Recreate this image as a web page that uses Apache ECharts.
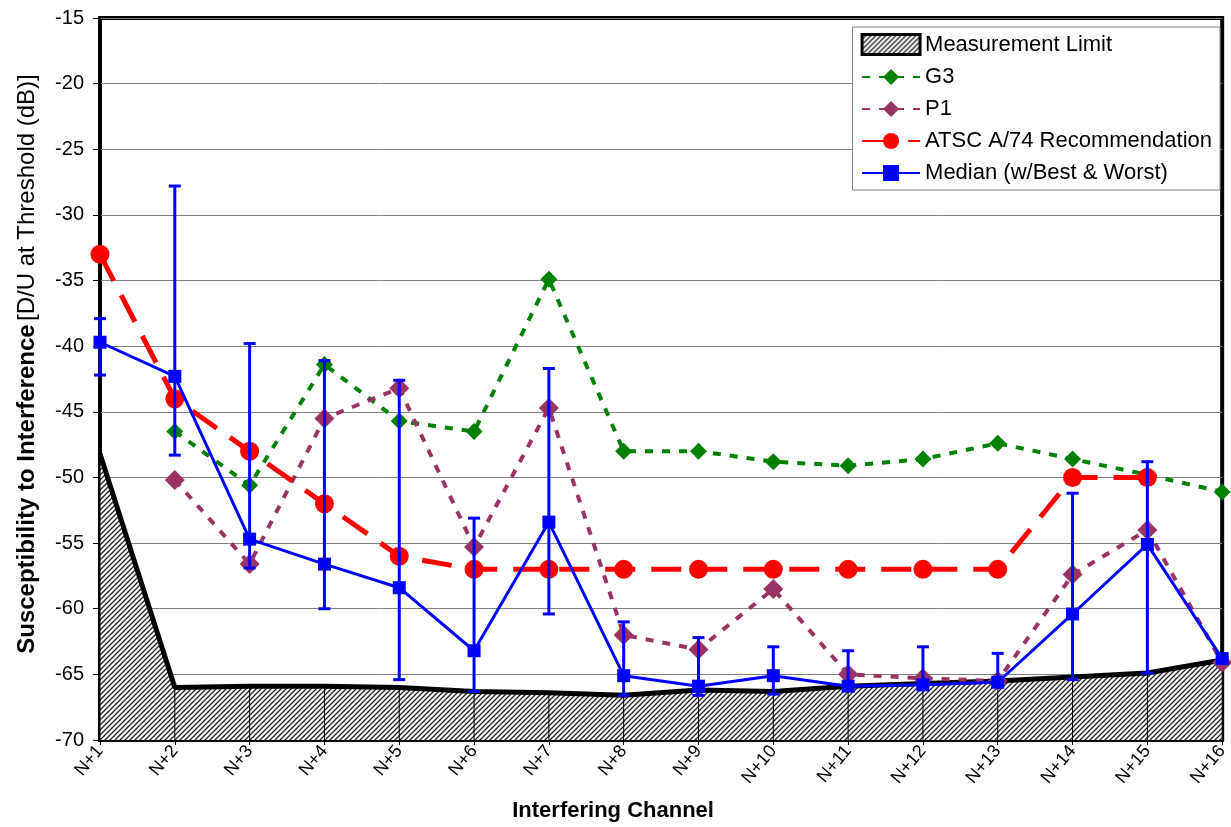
<!DOCTYPE html>
<html lang="en">
<head>
    <meta charset="UTF-8">
    <title>Interfering Channel</title>
    <style>
        * { margin: 0; padding: 0; }
        #main { width: 1231px; height: 827px; background: #fff; }
    </style>
</head>
<body>
    <div id="main"></div>
    <script src="https://cdn.jsdelivr.net/npm/echarts@6/dist/echarts.min.js"></script>
    <script>
        var channels = ['N+1', 'N+2', 'N+3', 'N+4', 'N+5', 'N+6', 'N+7', 'N+8',
            'N+9', 'N+10', 'N+11', 'N+12', 'N+13', 'N+14', 'N+15', 'N+16'];
        var limitVals = [-48.2, -66.0, -65.9, -65.9, -66.0, -66.3, -66.4, -66.6,
            -66.2, -66.3, -65.9, -65.7, -65.5, -65.2, -64.9, -63.9];
        var g3Vals = [null, -46.5, -50.6, -41.4, -45.7, -46.5, -34.9, -48.0,
            -48.0, -48.8, -49.1, -48.6, -47.4, -48.6, -49.8, -51.1];
        var p1Vals = [null, -50.2, -56.6, -45.5, -43.2, -55.3, -44.7, -62.0,
            -63.1, -58.5, -65.0, -65.3, -65.5, -57.4, -54.0, -64.1];
        var atscVals = [-33, -44, -48, -52, -56, -57, -57, -57,
            -57, -57, -57, -57, -57, -50, -50, null];
        var medianVals = [-39.7, -42.3, -54.7, -56.6, -58.4, -63.2, -53.4, -65.1,
            -65.9, -65.1, -65.9, -65.8, -65.6, -60.4, -55.1, -63.8];
        var bestVals = [-37.9, -27.8, -39.8, -41.1, -42.6, -53.1, -41.7, -61.0,
            -62.2, -62.9, -63.2, -62.9, -63.4, -51.2, -48.8, -63.8];
        var worstVals = [-42.2, -48.3, -56.9, -60.0, -65.4, -66.3, -60.4, -66.6,
            -66.6, -66.5, -65.9, -65.8, -65.6, -65.4, -64.9, -63.8];

        // hatch pattern for the measurement limit area
        var hatch = document.createElement('canvas');
        hatch.width = 5;
        hatch.height = 5;
        var ctx = hatch.getContext('2d');
        ctx.fillStyle = '#fff';
        ctx.fillRect(0, 0, 5, 5);
        ctx.strokeStyle = '#222';
        ctx.lineWidth = 1.3;
        ctx.beginPath();
        ctx.moveTo(0, 5); ctx.lineTo(5, 0);
        ctx.moveTo(-1, 1); ctx.lineTo(1, -1);
        ctx.moveTo(4, 6); ctx.lineTo(6, 4);
        ctx.stroke();
        var hatchFill = { image: hatch, repeat: 'repeat' };

        var errData = channels.map(function (c, i) { return [i, worstVals[i], bestVals[i]]; });
        var dropData = channels.map(function (c, i) { return [i, limitVals[i]]; });

        var myChart = echarts.init(document.getElementById('main'));
        var option = {
            animation: false,
            textStyle: { fontFamily: 'Liberation Sans, Arial, sans-serif' },
            grid: {
                left: 100, top: 18, right: 3, bottom: 85,
                show: true, borderColor: '#000', borderWidth: 4
            },
            legend: {
                orient: 'vertical',
                right: 11, top: 27,
                padding: [6, 8, 6, 8],
                itemGap: 10,
                itemWidth: 58,
                itemHeight: 20,
                backgroundColor: '#fff',
                borderColor: '#808080',
                borderWidth: 1,
                textStyle: { fontSize: 22, color: '#000', fontFamily: 'Liberation Sans, Arial, sans-serif' },
                data: [
                    { name: 'Measurement Limit', icon: 'rect',
                        itemStyle: { color: hatchFill, borderColor: '#000', borderWidth: 3 } },
                    'G3', 'P1', 'ATSC A/74 Recommendation', 'Median (w/Best & Worst)'
                ]
            },
            xAxis: {
                type: 'category',
                data: channels,
                boundaryGap: false,
                name: 'Interfering Channel',
                nameLocation: 'middle',
                nameGap: 60,
                nameTextStyle: { fontSize: 22, fontWeight: 'bold', color: '#000', padding: [0, 96, 0, 0] },
                axisLine: { lineStyle: { color: '#000', width: 1 } },
                axisTick: { show: true, length: 5, lineStyle: { color: '#000' } },
                axisLabel: { rotate: 50, fontSize: 18, color: '#000', margin: 8 },
                splitLine: { show: false }
            },
            yAxis: {
                type: 'value',
                min: -70, max: -15, interval: 5,
                name: '{b|Susceptibility to Interference} {n|[D/U at Threshold (dB)]}',
                nameLocation: 'middle',
                nameGap: 61,
                nameTextStyle: {
                    padding: [0, 0, 0, 30],
                    rich: {
                        b: { fontSize: 24, fontWeight: 'bold', color: '#000' },
                        n: { fontSize: 24, color: '#000' }
                    }
                },
                axisLine: { show: true, lineStyle: { color: '#000' } },
                axisTick: { show: true, length: 7, lineStyle: { color: '#000' } },
                axisLabel: { fontSize: 20, color: '#000', margin: 16 },
                splitLine: { lineStyle: { color: '#808080', width: 1 } }
            },
            series: [
                {
                    name: 'Measurement Limit',
                    type: 'line',
                    data: limitVals,
                    symbol: 'none',
                    z: 1,
                    lineStyle: { color: '#000', width: 5 },
                    itemStyle: { color: '#000' },
                    areaStyle: { color: hatchFill, opacity: 1, origin: 'start' }
                },
                {
                    name: 'drop',
                    type: 'custom',
                    z: 2,
                    silent: true,
                    data: dropData,
                    renderItem: function (params, api) {
                        var top = api.coord([api.value(0), api.value(1)]);
                        var bot = api.coord([api.value(0), -70]);
                        return {
                            type: 'line',
                            shape: { x1: top[0], y1: top[1], x2: bot[0], y2: bot[1] },
                            style: { stroke: '#000', lineWidth: 1 }
                        };
                    }
                },
                {
                    name: 'G3',
                    type: 'line',
                    data: g3Vals,
                    z: 4,
                    symbol: 'diamond',
                    symbolSize: 17,
                    lineStyle: { color: '#008000', width: 4, type: [8, 9] },
                    itemStyle: { color: '#008000' }
                },
                {
                    name: 'P1',
                    type: 'line',
                    data: p1Vals,
                    z: 4,
                    symbol: 'diamond',
                    symbolSize: 20,
                    lineStyle: { color: '#993366', width: 4, type: [8, 9] },
                    itemStyle: { color: '#993366' }
                },
                {
                    name: 'ATSC A/74 Recommendation',
                    type: 'line',
                    data: atscVals,
                    z: 5,
                    symbol: 'circle',
                    symbolSize: 19,
                    lineStyle: { color: '#ff0000', width: 5, type: [30, 16] },
                    itemStyle: { color: '#ff0000' }
                },
                {
                    name: 'errbars',
                    type: 'custom',
                    z: 6,
                    silent: true,
                    data: errData,
                    renderItem: function (params, api) {
                        var lo = api.coord([api.value(0), api.value(1)]);
                        var hi = api.coord([api.value(0), api.value(2)]);
                        var st = { stroke: '#0000ff', lineWidth: 3 };
                        return {
                            type: 'group',
                            children: [
                                { type: 'line', shape: { x1: lo[0], y1: lo[1], x2: hi[0], y2: hi[1] }, style: st },
                                { type: 'line', shape: { x1: lo[0] - 6, y1: lo[1], x2: lo[0] + 6, y2: lo[1] }, style: st },
                                { type: 'line', shape: { x1: hi[0] - 6, y1: hi[1], x2: hi[0] + 6, y2: hi[1] }, style: st }
                            ]
                        };
                    }
                },
                {
                    name: 'Median (w/Best & Worst)',
                    type: 'line',
                    data: medianVals,
                    z: 7,
                    symbol: 'rect',
                    symbolSize: 13,
                    lineStyle: { color: '#0000ff', width: 3 },
                    itemStyle: { color: '#0000ff' }
                }
            ]
        };
        myChart.setOption(option);
    </script>
</body>
</html>
